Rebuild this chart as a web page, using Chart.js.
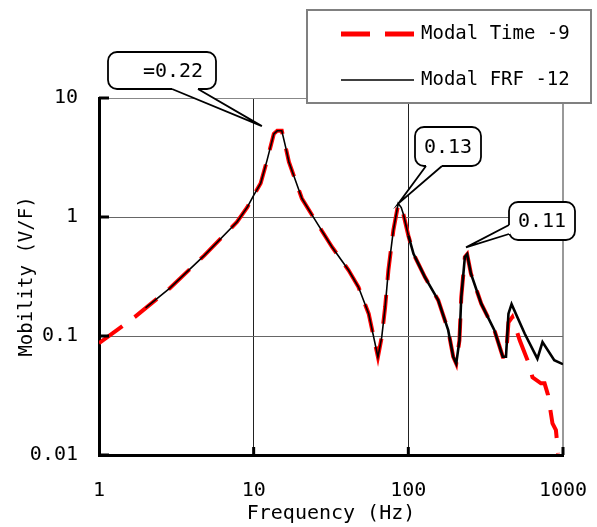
<!DOCTYPE html>
<html>
<head>
<meta charset="utf-8">
<script src="https://cdn.jsdelivr.net/npm/chart.js@4.4.1/dist/chart.umd.min.js"></script>
<style>
  html, body { margin: 0; padding: 0; background: #fff; }
</style>
</head>
<body>
<canvas id="mobility-chart" width="597" height="527"></canvas>
<script>
// tick positions
const xTicks = [1, 10, 100, 1000];
const yTicks = [0.01, 0.1, 1, 10];

// Modal Time -9 (red dashed)
const freqTime = [1, 1.7, 2.86, 4.8, 7.8, 9.1, 10, 11.1, 12.2, 13.5, 14.2, 15.2, 16.1, 16.9, 20.5, 25, 32.1, 41.1, 47.6, 55.4, 59.7, 63.6, 67.3, 70.8, 74.3, 80, 86, 90, 93, 100, 108, 128, 156, 181, 195, 204, 214, 220, 232, 240, 254, 296, 360, 408, 428, 444, 470, 525, 590, 635, 720, 760, 800, 855, 900, 930];
const magTime = [0.087, 0.144, 0.251, 0.476, 0.908, 1.21, 1.52, 1.92, 2.99, 5.0, 5.3, 5.3, 3.87, 2.9, 1.43, 0.94, 0.56, 0.357, 0.258, 0.154, 0.098, 0.0667, 0.098, 0.175, 0.357, 0.773, 1.28, 1.2, 1.05, 0.7, 0.49, 0.313, 0.2, 0.112, 0.067, 0.0586, 0.092, 0.213, 0.461, 0.486, 0.334, 0.187, 0.112, 0.067, 0.067, 0.13, 0.144, 0.092, 0.0625, 0.045, 0.04, 0.04, 0.032, 0.0184, 0.0162, 0.0103];

// Modal FRF -12 (black)
const freqFrf = [2, 2.86, 4.8, 7.8, 9.1, 10, 11.1, 12.2, 13.5, 14.2, 15.2, 16.1, 16.9, 20.5, 25, 32.1, 41.1, 47.6, 55.4, 59.7, 63.6, 67.3, 70.8, 74.3, 80, 86, 90, 93, 100, 108, 128, 156, 181, 195, 204, 214, 220, 232, 240, 254, 296, 360, 408, 428, 444, 465, 565, 683, 737, 878, 980, 1000];
const magFrf = [0.172, 0.251, 0.476, 0.908, 1.21, 1.52, 1.92, 2.99, 5.0, 5.3, 5.3, 3.87, 2.9, 1.43, 0.94, 0.56, 0.357, 0.258, 0.154, 0.098, 0.0667, 0.098, 0.175, 0.357, 0.773, 1.3, 1.2, 1.05, 0.7, 0.49, 0.313, 0.2, 0.112, 0.067, 0.0586, 0.092, 0.213, 0.461, 0.486, 0.334, 0.187, 0.112, 0.067, 0.067, 0.154, 0.185, 0.105, 0.0645, 0.089, 0.0625, 0.0586, 0.058];

const seriesNames = ['Modal Time -9', 'Modal FRF -12'];

// callout labels: text + the data point the tail points at
const calloutText = ['=0.22', '0.13', '0.11'];
const calloutFreq = [11.3, 86.3, 236];
const calloutMag = [5.8, 1.3, 0.556];

const FONT = '"DejaVu Sans Mono", monospace';

const toPoints = (xs, ys) => xs.map((f, i) => ({ x: f, y: ys[i] }));

// box geometry for each callout (pixels)
const calloutBoxes = [
  { x: 108, y: 52, w: 108, h: 37, b1: [172, 89], b2: [198, 89], tx: 173, ty: 72 },
  { x: 415, y: 127, w: 66, h: 39, b1: [426, 166], b2: [442, 166], tx: 448, ty: 148 },
  { x: 509, y: 202, w: 66, h: 38, b1: [509, 225], b2: [509, 234], tx: 542, ty: 222 }
];

const overlay = {
  id: 'overlay',
  afterDraw(chart) {
    const { ctx, chartArea: a, scales: { x, y } } = chart;
    ctx.save();

    // inward tick marks
    ctx.strokeStyle = '#000';
    ctx.lineWidth = 3;
    ctx.beginPath();
    yTicks.forEach(v => {
      const py = y.getPixelForValue(v);
      ctx.moveTo(a.left, py); ctx.lineTo(a.left + 10, py);
    });
    xTicks.slice(1).forEach(v => {
      const px = x.getPixelForValue(v);
      ctx.moveTo(px, a.bottom); ctx.lineTo(px, a.bottom - 8);
    });
    ctx.stroke();

    // callouts
    ctx.font = '20px ' + FONT;
    ctx.textAlign = 'center';
    ctx.textBaseline = 'middle';
    calloutText.forEach((txt, i) => {
      const b = calloutBoxes[i];
      const tipX = x.getPixelForValue(calloutFreq[i]);
      const tipY = y.getPixelForValue(calloutMag[i]);
      ctx.lineWidth = 1.8;
      ctx.strokeStyle = '#000';
      ctx.fillStyle = '#fff';
      ctx.beginPath();
      ctx.roundRect(b.x, b.y, b.w, b.h, 9);
      ctx.fill();
      ctx.stroke();
      // tail
      ctx.beginPath();
      ctx.moveTo(b.b1[0], b.b1[1]);
      ctx.lineTo(tipX, tipY);
      ctx.lineTo(b.b2[0], b.b2[1]);
      ctx.closePath();
      ctx.fill();
      ctx.strokeStyle = '#fff';
      ctx.lineWidth = 3;
      ctx.beginPath();
      ctx.moveTo(b.b1[0], b.b1[1]); ctx.lineTo(b.b2[0], b.b2[1]);
      ctx.stroke();
      ctx.strokeStyle = '#000';
      ctx.lineWidth = 1.8;
      ctx.beginPath();
      ctx.moveTo(b.b1[0], b.b1[1]); ctx.lineTo(tipX, tipY); ctx.lineTo(b.b2[0], b.b2[1]);
      ctx.stroke();
      ctx.fillStyle = '#000';
      ctx.fillText(txt, b.tx, b.ty);
    });

    // legend box
    ctx.fillStyle = '#fff';
    ctx.strokeStyle = '#808080';
    ctx.lineWidth = 2;
    ctx.fillRect(307, 10, 284, 93);
    ctx.strokeRect(307, 10, 284, 93);
    ctx.font = '19px ' + FONT;
    const rows = [34, 80];
    chart.data.datasets.forEach((ds, i) => {
      const ry = rows[i];
      ctx.strokeStyle = ds.borderColor;
      ctx.lineWidth = ds.legendWidth;
      ctx.setLineDash(ds.borderDash || []);
      ctx.beginPath();
      ctx.moveTo(341, ry); ctx.lineTo(414, ry);
      ctx.stroke();
      ctx.setLineDash([]);
      ctx.fillStyle = '#000';
      ctx.textAlign = 'left';
      ctx.fillText(ds.label, 421, ry);
    });
    ctx.restore();
  }
};

new Chart(document.getElementById('mobility-chart'), {
  type: 'line',
  data: {
    datasets: [
      {
        label: seriesNames[0],
        data: toPoints(freqTime, magTime),
        borderColor: '#ff0000',
        borderWidth: 4,
        legendWidth: 5,
        borderDash: [29, 15],
        pointRadius: 0,
        order: 1
      },
      {
        label: seriesNames[1],
        data: toPoints(freqFrf, magFrf),
        borderColor: '#000000',
        borderWidth: 1.6,
        legendWidth: 1.6,
        segment: { borderWidth: c => (c.p0.parsed.x >= 100 ? 2.6 : 1.6) },
        pointRadius: 0,
        order: 0
      }
    ]
  },
  options: {
    responsive: false,
    animation: false,
    devicePixelRatio: 1,
    layout: { padding: { top: 98, right: 34, left: 0, bottom: 0 } },
    plugins: {
      legend: { display: false },
      tooltip: { enabled: false }
    },
    scales: {
      x: {
        type: 'logarithmic',
        min: 1,
        max: 1000,
        afterBuildTicks: s => { s.ticks = xTicks.map(v => ({ value: v })); },
        afterFit: s => { s.height = 72; s.paddingLeft = 0; s.paddingRight = 0; },
        ticks: {
          autoSkip: false,
          maxRotation: 0,
          padding: 24,
          color: '#000',
          font: { family: FONT, size: 20 },
          callback: v => String(v)
        },
        grid: {
          drawTicks: false,
          color: c => {
            const v = c.tick && c.tick.value;
            if (v === 1) return 'rgba(0,0,0,0)';
            if (v === 1000) return '#999';
            return '#222';
          },
          lineWidth: c => (c.tick && c.tick.value === 1000 ? 2 : 1)
        },
        border: { display: true, color: '#000', width: 3 },
        title: {
          display: true,
          text: 'Frequency (Hz)',
          color: '#000',
          font: { family: FONT, size: 20 },
          padding: { top: 0, bottom: 1 }
        }
      },
      y: {
        type: 'logarithmic',
        min: 0.01,
        max: 10,
        afterBuildTicks: s => { s.ticks = yTicks.map(v => ({ value: v })); },
        afterFit: s => { s.width = 99; s.paddingTop = 0; s.paddingBottom = 0; },
        ticks: {
          autoSkip: false,
          padding: 21,
          color: '#000',
          font: { family: FONT, size: 20 },
          callback: v => String(v)
        },
        grid: {
          drawTicks: false,
          color: c => {
            const v = c.tick && c.tick.value;
            if (v === 0.01) return 'rgba(0,0,0,0)';
            if (v === 10) return '#888';
            return '#666';
          },
          lineWidth: 1
        },
        border: { display: true, color: '#000', width: 3 },
        title: {
          display: true,
          text: 'Mobility (V/F)',
          color: '#000',
          font: { family: FONT, size: 19 },
          padding: { top: 16, bottom: 0 }
        }
      }
    }
  },
  plugins: [overlay]
});
</script>
</body>
</html>
